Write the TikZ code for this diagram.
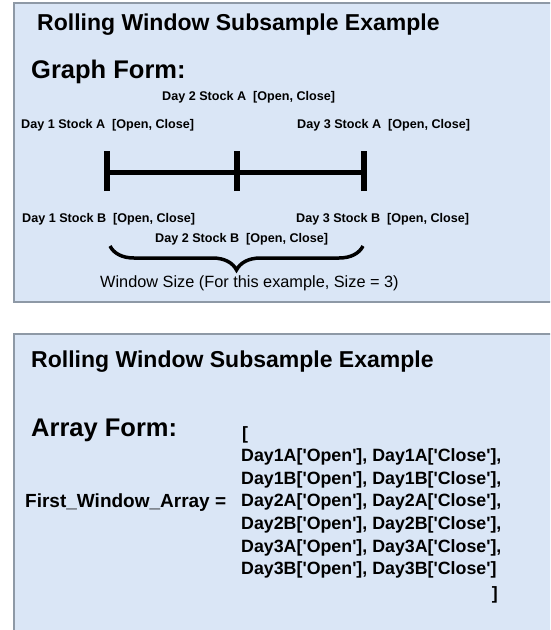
\documentclass[tikz,border=0pt]{standalone}
\usepackage{fontspec}
\setmainfont{Liberation Sans}
\usetikzlibrary{decorations.pathreplacing}

\definecolor{panelfill}{HTML}{DAE6F6}
\definecolor{panelline}{HTML}{8E99A6}
\newcommand{\qo}[1]{\textquotesingle#1\textquotesingle}

\begin{document}
\begin{tikzpicture}[x=1pt,y=-1pt,
  panel/.style={draw=panelline,fill=panelfill,line width=1.2pt},
  title/.style={anchor=west,inner sep=0pt,font=\bfseries\fontsize{23}{27}\selectfont},
  form/.style={anchor=west,inner sep=0pt,font=\bfseries\fontsize{25.5}{30}\selectfont},
  daylbl/.style={anchor=west,inner sep=0pt,font=\bfseries\fontsize{12.6}{14}\selectfont},
  arrlbl/.style={anchor=west,inner sep=0pt,font=\bfseries\fontsize{17.8}{21}\selectfont},
  bar/.style={line width=5pt},
  tick/.style={line width=6pt}]
\clip (0,0) rectangle (550,630);
\fill[white] (0,0) rectangle (550,630);

% graph form panel
\draw[panel] (14,3) rectangle (560,302);
\node[title] (title1) at (37,25) {Rolling Window Subsample Example};
\node[form] (graph) at (31,72) {Graph Form:};

\node[daylbl] (d2a) at (162,97) {Day 2 Stock A\ \ [Open, Close]};
\node[daylbl] (d1a) at (21,125) {Day 1 Stock A\ \ [Open, Close]};
\node[daylbl] (d3a) at (297,125) {Day 3 Stock A\ \ [Open, Close]};

\coordinate (t1) at (107,172);
\coordinate (t2) at (237,172);
\coordinate (t3) at (364,172);
\draw[bar] (t1)--(t2)--(t3);
\draw[tick] ([yshift=-19pt]t1)--([yshift=21pt]t1);
\draw[tick] ([yshift=-19pt]t2)--([yshift=21pt]t2);
\draw[tick] ([yshift=-19pt]t3)--([yshift=21pt]t3);

\node[daylbl] (d1b) at (22,219) {Day 1 Stock B\ \ [Open, Close]};
\node[daylbl] (d3b) at (296,219) {Day 3 Stock B\ \ [Open, Close]};
\node[daylbl] (d2b) at (155,239) {Day 2 Stock B\ \ [Open, Close]};

\coordinate (b1) at (110,246);
\coordinate (b2) at (363,246);
\draw[line width=3.5pt,decorate,decoration={brace,mirror,amplitude=24pt}] (b1)--(b2);
\node[anchor=west,inner sep=0pt,font=\fontsize{16.3}{19}\selectfont] (wsize) at (100,283)
  {Window Size (For this example, Size = 3)};

% array form panel
\draw[panel] (14,334) rectangle (560,640);
\node[title] (title2) at (31,362) {Rolling Window Subsample Example};
\node[form] (array) at (31,430) {Array Form:};
\node[arrlbl] (opn) at (242,435) {[};
\node[arrlbl,font=\bfseries\fontsize{19}{22}\selectfont] (fwa) at (25,503) {First\_Window\_Array =};
\node[arrlbl] (r1) at (241,457) {Day1A[\qo{Open}], Day1A[\qo{Close}],};
\node[arrlbl] (r2) at (241,479.6) {Day1B[\qo{Open}], Day1B[\qo{Close}],};
\node[arrlbl] (r3) at (241,502.2) {Day2A[\qo{Open}], Day2A[\qo{Close}],};
\node[arrlbl] (r4) at (241,524.8) {Day2B[\qo{Open}], Day2B[\qo{Close}],};
\node[arrlbl] (r5) at (241,547.4) {Day3A[\qo{Open}], Day3A[\qo{Close}],};
\node[arrlbl] (r6) at (241,570) {Day3B[\qo{Open}], Day3B[\qo{Close}]};
\node[arrlbl,anchor=east] (cls) at (498,595) {]};
\end{tikzpicture}
\end{document}
